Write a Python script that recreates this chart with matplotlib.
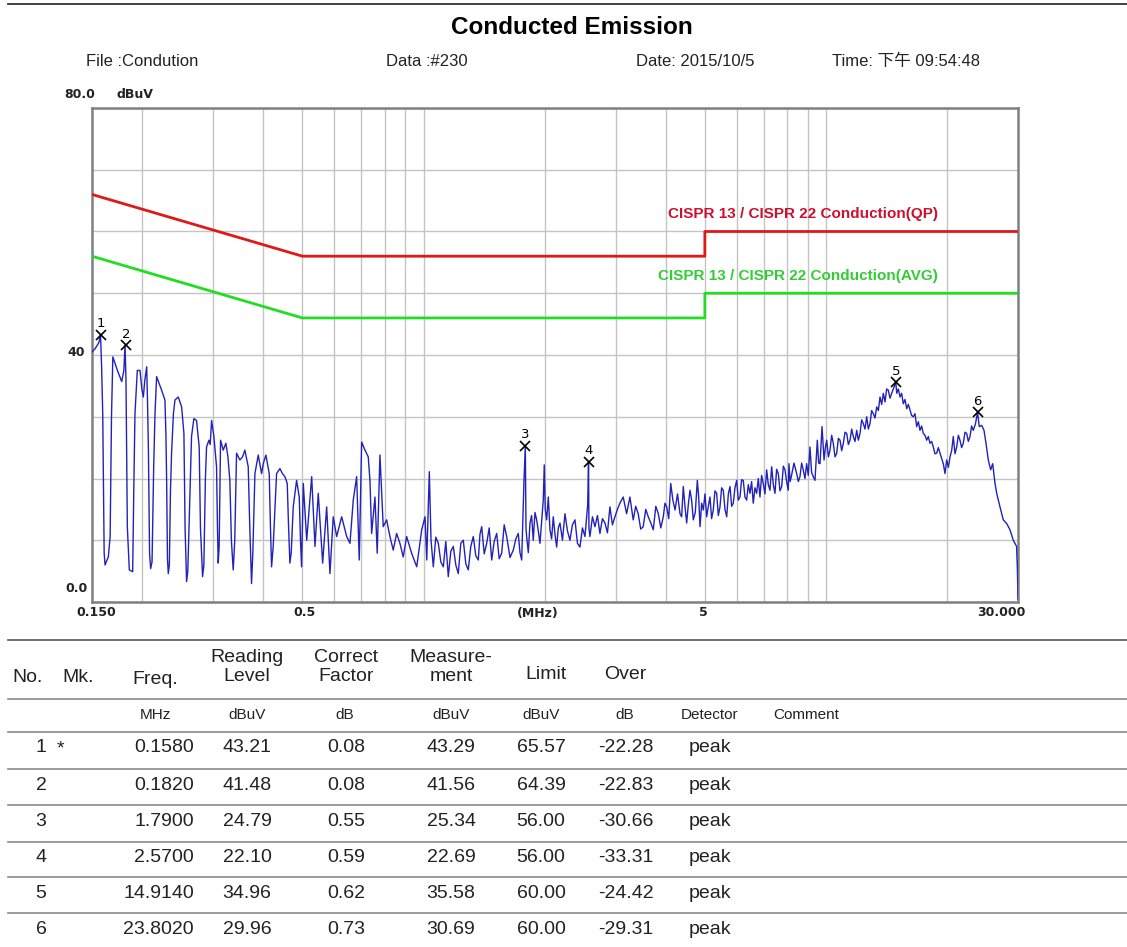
import matplotlib
matplotlib.use('Agg')
import matplotlib.pyplot as plt
from matplotlib.lines import Line2D

plt.rcParams['font.family'] = ['Liberation Sans', 'Noto Sans CJK SC', 'DejaVu Sans']

W, H = 1127, 947

# ---------------- data ----------------
# low band comb (0.15 - 0.5 MHz)
comb_freq = [0.1500, 0.1526, 0.1560, 0.1575, 0.1585, 0.1595, 0.1608, 0.1616, 0.1647, 0.1664,
             0.1677, 0.1690, 0.1735, 0.1778, 0.1800, 0.1812, 0.1822, 0.1836, 0.1857, 0.1893,
             0.1905, 0.1918, 0.1944, 0.1974, 0.1995, 0.2012, 0.2030, 0.2051, 0.2060, 0.2071,
             0.2085, 0.2098, 0.2115, 0.2135, 0.2151, 0.2171, 0.2200, 0.2234, 0.2277, 0.2290,
             0.2299, 0.2310, 0.2321, 0.2335, 0.2350, 0.2365, 0.2390, 0.2411, 0.2457, 0.2505,
             0.2538, 0.2555, 0.2577, 0.2595, 0.2625, 0.2651, 0.2687, 0.2728, 0.2770, 0.2790,
             0.2824, 0.2845, 0.2870, 0.2889, 0.2928, 0.2950, 0.2973, 0.3013, 0.3059, 0.3075,
             0.3088, 0.3105, 0.3130, 0.3178, 0.3227, 0.3265, 0.3301, 0.3330, 0.3365, 0.3395,
             0.3430, 0.3496, 0.3550, 0.3597, 0.3667, 0.3700, 0.3737, 0.3765, 0.3810, 0.3883,
             0.3958, 0.4000, 0.4057, 0.4135, 0.4165, 0.4191, 0.4230, 0.4313, 0.4396, 0.4460,
             0.4523, 0.4584, 0.4620, 0.4654, 0.4690, 0.4744, 0.4836, 0.4910, 0.4945, 0.4976]
comb_level = [40.5, 41.0, 42.0, 43.3, 38.0, 30.5, 8.0, 6.0, 7.3, 10.6,
              30.0, 39.7, 37.5, 35.7, 37.5, 41.6, 36.0, 12.2, 5.2, 4.9,
              18.0, 30.5, 37.5, 37.5, 34.5, 33.2, 36.0, 38.1, 33.0, 25.1,
              8.0, 5.4, 6.5, 22.0, 30.5, 36.5, 35.5, 34.3, 32.7, 27.0,
              19.7, 7.0, 4.6, 6.0, 18.0, 24.1, 30.5, 32.7, 33.2, 31.6,
              27.3, 12.0, 3.3, 5.0, 17.0, 26.8, 29.7, 29.4, 25.1, 12.0,
              4.1, 6.0, 20.0, 25.1, 26.2, 25.5, 29.4, 26.8, 21.9, 12.0,
              6.3, 9.0, 26.2, 24.6, 25.7, 23.5, 19.7, 10.0, 5.2, 10.0,
              24.1, 23.0, 23.5, 24.6, 21.9, 12.0, 3.0, 8.0, 20.8, 23.8,
              20.8, 22.5, 23.8, 20.8, 12.0, 5.7, 9.0, 20.8, 21.6, 20.8,
              20.3, 19.2, 12.0, 6.3, 8.0, 15.4, 19.7, 17.0, 10.0, 5.7]

# mid band (0.5 - 5 MHz)
mid_freq = [0.5025, 0.5124, 0.5272, 0.5373, 0.5474, 0.5614, 0.5744, 0.5853, 0.5964, 0.6082,
            0.6259, 0.6441, 0.6563, 0.6688, 0.6819, 0.6921, 0.7017, 0.7151, 0.7287, 0.7358,
            0.7430, 0.7572, 0.7671, 0.7791, 0.7939, 0.8096, 0.8250, 0.8407, 0.8572, 0.8735,
            0.8901, 0.9077, 0.9340, 0.9616, 0.9895, 1.0084, 1.0183, 1.0334, 1.0436, 1.0573,
            1.0725, 1.0880, 1.1037, 1.1196, 1.1357, 1.1520, 1.1686, 1.1854, 1.2025, 1.2198,
            1.2374, 1.2552, 1.2733, 1.2916, 1.3102, 1.3291, 1.3483, 1.3677, 1.3811, 1.3946,
            1.4148, 1.4351, 1.4558, 1.4767, 1.4980, 1.5196, 1.5415, 1.5637, 1.5862, 1.6090,
            1.6398, 1.6708, 1.6949, 1.7193, 1.7361, 1.7531, 1.7766, 1.7900, 1.7968, 1.8038,
            1.8210, 1.8383, 1.8557, 1.8732, 1.8915, 1.9100, 1.9282, 1.9465, 1.9835, 1.9949,
            2.0064, 2.0225, 2.0418, 2.0611, 2.0806, 2.1003, 2.1208, 2.1415, 2.1619, 2.1824,
            2.2139, 2.2459, 2.2782, 2.3108, 2.3441, 2.3780, 2.4122, 2.4468, 2.4822, 2.5180,
            2.5573, 2.5700, 2.5760, 2.5908, 2.6283, 2.6662, 2.7044, 2.7432, 2.7829, 2.8230,
            2.8636, 2.9047, 2.9468, 2.9892, 3.0320, 3.0756, 3.1341, 3.1956, 3.2566, 3.3185,
            3.3663, 3.4148, 3.4640, 3.5138, 3.5655, 3.6177, 3.6700, 3.7226, 3.7765, 3.8310,
            3.8860, 3.9420, 3.9800, 4.0198, 4.0660, 4.1130, 4.1640, 4.2158, 4.2760, 4.3370,
            4.3780, 4.4194, 4.4625, 4.5063, 4.5490, 4.5924, 4.6360, 4.6797, 4.7340, 4.7893,
            4.8265, 4.8640, 4.9100]
mid_level = [19.2, 10.0, 20.3, 9.0, 17.6, 6.3, 15.4, 4.6, 13.8, 10.6,
             13.8, 10.6, 9.5, 16.5, 20.3, 6.8, 25.9, 24.6, 23.5, 19.7,
             11.1, 17.0, 7.9, 23.8, 12.2, 13.3, 10.6, 8.4, 11.1, 9.5,
             7.3, 10.6, 7.9, 5.7, 11.7, 13.8, 6.8, 21.1, 10.0, 5.7,
             10.5, 9.5, 6.5, 5.7, 9.8, 4.1, 8.2, 9.0, 6.0, 4.6,
             9.5, 10.0, 6.2, 5.2, 9.0, 10.6, 7.5, 6.8, 11.0, 12.2,
             7.8, 9.5, 12.0, 6.8, 9.8, 11.1, 7.0, 7.9, 12.5, 10.6,
             7.2, 8.4, 10.2, 11.1, 8.0, 6.8, 19.7, 25.3, 12.0, 10.6,
             8.0, 12.8, 14.0, 10.0, 14.5, 13.3, 11.5, 9.5, 16.5, 22.2,
             15.0, 13.3, 17.0, 11.7, 10.2, 13.8, 11.0, 8.9, 12.0, 12.8,
             10.0, 14.3, 11.5, 10.0, 12.5, 13.3, 9.5, 8.9, 12.0, 10.6,
             15.7, 22.7, 12.0, 10.6, 13.8, 12.2, 14.0, 11.1, 13.5, 12.8,
             11.2, 15.4, 12.5, 13.8, 15.0, 16.0, 17.0, 14.3, 17.0, 13.3,
             15.5, 14.3, 11.8, 12.2, 15.0, 13.8, 12.8, 11.7, 15.5, 14.3,
             12.0, 13.8, 16.0, 15.4, 13.5, 19.2, 16.5, 14.9, 17.5, 14.3,
             13.8, 18.7, 15.5, 12.8, 15.8, 18.1, 16.5, 13.3, 14.5, 19.7,
             17.0, 12.2, 16.0]

# high band (5 - 30 MHz)
high_freq = [4.9564, 5.0040, 5.0524, 5.1005, 5.1489, 5.1975, 5.2467, 5.2980, 5.3497, 5.4005,
             5.4519, 5.5035, 5.5555, 5.6105, 5.6658, 5.7195, 5.7740, 5.8285, 5.8837, 5.9405,
             5.9982, 6.0555, 6.1128, 6.1705, 6.2289, 6.2900, 6.3514, 6.4118, 6.4727, 6.5340,
             6.5957, 6.6600, 6.7252, 6.7890, 6.8536, 6.9185, 6.9838, 7.0520, 7.1210, 7.1888,
             7.2570, 7.3281, 7.3980, 7.4682, 7.5392, 7.6108, 7.6855, 7.7607, 7.8345, 7.9090,
             7.9835, 8.0584, 8.0905, 8.1450, 8.1993, 8.3270, 8.4557, 8.5360, 8.6171, 8.6985,
             8.7808, 8.8660, 8.9522, 9.0375, 9.1232, 9.2095, 9.2965, 9.3887, 9.4520, 9.5156,
             9.5895, 9.6640, 9.7756, 9.8890, 9.9650, 10.041, 10.137, 10.233, 10.330, 10.427,
             10.530, 10.633, 10.734, 10.836, 10.939, 11.042, 11.150, 11.259, 11.366, 11.474,
             11.583, 11.692, 11.806, 11.921, 12.034, 12.149, 12.264, 12.380, 12.501, 12.624,
             12.744, 12.865, 12.986, 13.109, 13.237, 13.367, 13.494, 13.622, 13.751, 13.881,
             14.018, 14.150, 14.283, 14.423, 14.564, 14.914, 14.987, 15.130, 15.273, 15.417,
             15.563, 15.715, 15.869, 16.020, 16.172, 16.325, 16.479, 16.640, 16.803, 16.963,
             17.124, 17.286, 17.449, 17.619, 17.791, 17.960, 18.131, 18.302, 18.475, 18.656,
             18.839, 19.018, 19.199, 19.564, 19.758, 19.949, 20.140, 20.330, 20.522, 20.716,
             20.918, 21.124, 21.325, 21.527, 21.730, 21.936, 22.150, 22.367, 22.580, 22.794,
             23.010, 23.227, 23.510, 23.802, 24.040, 24.374, 24.699, 24.980, 25.310, 25.660,
             25.957, 26.302, 26.557, 27.064, 27.578, 28.120, 28.657, 29.201, 29.760, 29.900,
             30.000]
high_level = [14.9, 17.5, 13.8, 15.5, 17.0, 13.5, 14.9, 18.0, 17.6, 14.0,
              15.4, 18.5, 18.1, 15.0, 13.8, 17.5, 18.7, 15.5, 16.0, 18.5,
              19.7, 16.5, 17.0, 19.8, 19.7, 17.0, 16.5, 19.0, 17.6, 19.5,
              16.0, 18.5, 17.6, 20.0, 17.0, 20.5, 19.2, 17.5, 21.4, 19.0,
              18.1, 21.9, 19.0, 17.6, 21.5, 20.8, 18.0, 18.7, 22.0, 21.4,
              19.5, 18.1, 22.4, 19.5, 20.3, 22.5, 20.8, 19.5, 20.3, 22.5,
              21.4, 20.0, 22.4, 20.5, 25.1, 21.0, 20.3, 19.7, 23.0, 26.2,
              22.5, 22.4, 28.4, 23.0, 25.0, 26.2, 23.5, 24.6, 27.0, 25.7,
              23.5, 24.1, 26.5, 26.2, 24.5, 25.7, 27.5, 27.3, 25.5, 26.2,
              28.0, 26.8, 26.0, 27.8, 26.2, 27.3, 29.5, 28.9, 28.0, 30.0,
              28.0, 28.9, 31.0, 30.5, 29.8, 31.6, 31.0, 33.2, 32.0, 33.8,
              32.4, 34.5, 34.3, 33.0, 33.8, 35.6, 33.8, 34.5, 33.2, 33.8,
              32.1, 32.8, 31.3, 32.0, 31.1, 30.2, 30.0, 30.5, 28.4, 29.2,
              27.8, 28.5, 27.3, 27.0, 26.2, 26.8, 25.7, 26.0, 25.1, 24.0,
              24.1, 25.0, 24.1, 22.4, 20.8, 23.0, 21.8, 23.5, 24.5, 26.8,
              24.0, 25.1, 27.0, 26.2, 25.0, 25.7, 27.5, 27.3, 26.0, 26.8,
              28.5, 27.8, 28.8, 30.7, 28.4, 28.6, 27.8, 25.7, 23.0, 21.4,
              22.4, 19.2, 17.6, 15.4, 13.3, 12.7, 11.7, 10.0, 9.0, 5.2,
              0.5]

# limit lines
limit_freq = [0.15, 0.5, 5.0, 5.0, 30.0]
qp_limit = [66, 56, 56, 60, 60]
avg_limit = [56, 46, 46, 50, 50]

# marker table
tab_no = [1, 2, 3, 4, 5, 6]
tab_mk = ['*', '', '', '', '', '']
tab_freq = [0.1580, 0.1820, 1.7900, 2.5700, 14.9140, 23.8020]
tab_reading = [43.21, 41.48, 24.79, 22.10, 34.96, 29.96]
tab_factor = [0.08, 0.08, 0.55, 0.59, 0.62, 0.73]
tab_meas = [43.29, 41.56, 25.34, 22.69, 35.58, 30.69]
tab_limit = [65.57, 64.39, 56.00, 56.00, 60.00, 60.00]
tab_over = [-22.28, -22.83, -30.66, -33.31, -24.42, -29.31]
tab_detector = ['peak'] * 6


def fx(x):
    return x / W


def fy(y):
    return 1 - y / H


fig = plt.figure(figsize=(W / 100, H / 100), dpi=100)

# header
fig.add_artist(Line2D([fx(8), 1], [fy(4), fy(4)], color='#333333', lw=1.3))
fig.text(fx(572), fy(27), 'Conducted Emission', ha='center', va='center',
         fontsize=17.5, fontweight='bold')
hdr = dict(ha='left', va='center', fontsize=12, color='#222222')
fig.text(fx(86), fy(61), 'File :Condution', **hdr)
fig.text(fx(386), fy(61), 'Data :#230', **hdr)
fig.text(fx(636), fy(61), 'Date: 2015/10/5', **hdr)
fig.text(fx(832), fy(61), 'Time: 下午 09:54:48', **hdr)

# plot
ax = fig.add_axes([fx(92), fy(602), (1018 - 92) / W, (602 - 108) / H])
ax.set_xscale('log')
ax.set_xlim(0.15, 30)
ax.set_ylim(0, 80)
grid_f = [0.2, 0.3, 0.4, 0.5, 0.6, 0.7, 0.8, 0.9, 1, 2, 3, 4, 5, 6, 7, 8, 9, 10, 20]
ax.set_xticks(grid_f)
ax.set_xticks([], minor=True)
ax.set_yticks(range(0, 81, 10))
ax.tick_params(length=0, labelbottom=False, labelleft=False)
ax.grid(True, color='#c4c4c4', lw=1.0)
for sp in ax.spines.values():
    sp.set_color('#808080')
    sp.set_linewidth(1.8)

ax.plot(limit_freq, qp_limit, color='#e01818', lw=2.0, zorder=3)
ax.plot(limit_freq, avg_limit, color='#22dd22', lw=2.0, zorder=3)

trace_f = comb_freq + mid_freq + high_freq
trace_l = comb_level + mid_level + high_level
ax.plot(trace_f, trace_l, color='#2222b8', lw=1.0, zorder=4)

ax.plot(tab_freq, tab_meas, 'x', color='black', ms=7, mew=1.2, zorder=5)
for n, f, m in zip(tab_no, tab_freq, tab_meas):
    ax.annotate(str(n), (f, m), xytext=(0, 8), textcoords='offset points',
                ha='center', va='center', fontsize=9.5, family='DejaVu Sans')

ax.text(18.98, 62.8, 'CISPR 13 / CISPR 22 Conduction(QP)', ha='right', va='center',
        fontsize=11, fontweight='bold', color='#cc1030')
ax.text(18.98, 52.75, 'CISPR 13 / CISPR 22 Conduction(AVG)', ha='right', va='center',
        fontsize=11, fontweight='bold', color='#33cc33')

# axis labels as in the original
lab = dict(fontsize=9, fontweight='bold', family='DejaVu Sans', va='center', color='#222222')
fig.text(fx(96), fy(613), '0.150', ha='center', **lab)
fig.text(fx(305), fy(613), '0.5', ha='center', **lab)
fig.text(fx(538), fy(613), '(MHz)', ha='center', **lab)
fig.text(fx(703), fy(613), '5', ha='center', **lab)
fig.text(fx(1001), fy(613), '30.000', ha='center', **lab)
fig.text(fx(80), fy(94), '80.0', ha='center', **lab)
fig.text(fx(135), fy(94), 'dBuV', ha='center', **lab)
fig.text(fx(76), fy(352), '40', ha='center', **lab)
fig.text(fx(76), fy(588), '0.0', ha='center', **lab)

# table
for y, c in [(640, '#555555'), (699, '#8a8a8a'), (732, '#8a8a8a'), (769, '#8a8a8a'),
             (805, '#8a8a8a'), (842, '#8a8a8a'), (877, '#8a8a8a'), (913, '#8a8a8a')]:
    fig.add_artist(Line2D([fx(8), 1], [fy(y), fy(y)], color=c, lw=1.2))

hd = dict(fontsize=14, va='center', color='#222222')
fig.text(fx(12), fy(677), 'No.', ha='left', **hd)
fig.text(fx(62), fy(677), 'Mk.', ha='left', **hd)
fig.text(fx(155), fy(679), 'Freq.', ha='center', **hd)
fig.text(fx(247), fy(667), 'Reading\nLevel', ha='center', linespacing=1.1, **hd)
fig.text(fx(346), fy(667), 'Correct\nFactor', ha='center', linespacing=1.1, **hd)
fig.text(fx(451), fy(667), 'Measure-\nment', ha='center', linespacing=1.1, **hd)
fig.text(fx(546), fy(674), 'Limit', ha='center', **hd)
fig.text(fx(625), fy(674), 'Over', ha='center', **hd)

un = dict(fontsize=11, va='center', ha='center', color='#222222')
for x, s in [(155, 'MHz'), (247, 'dBuV'), (345, 'dB'), (451, 'dBuV'), (541, 'dBuV'),
             (625, 'dB'), (710, 'Detector'), (806, 'Comment')]:
    fig.text(fx(x), fy(715), s, **un)

row_y = [747, 785, 821, 857, 893, 929]
dt = dict(fontsize=14, va='center', color='#222222')
for i, y in enumerate(row_y):
    fig.text(fx(41), fy(y), str(tab_no[i]), ha='center', **dt)
    fig.text(fx(60), fy(y + 2), tab_mk[i], ha='center', **dt)
    fig.text(fx(194), fy(y), f'{tab_freq[i]:.4f}', ha='right', **dt)
    fig.text(fx(247), fy(y), f'{tab_reading[i]:.2f}', ha='center', **dt)
    fig.text(fx(346), fy(y), f'{tab_factor[i]:.2f}', ha='center', **dt)
    fig.text(fx(451), fy(y), f'{tab_meas[i]:.2f}', ha='center', **dt)
    fig.text(fx(541), fy(y), f'{tab_limit[i]:.2f}', ha='center', **dt)
    fig.text(fx(626), fy(y), f'{tab_over[i]:.2f}', ha='center', **dt)
    fig.text(fx(710), fy(y), tab_detector[i], ha='center', **dt)

fig.savefig('out.png', dpi=100)
